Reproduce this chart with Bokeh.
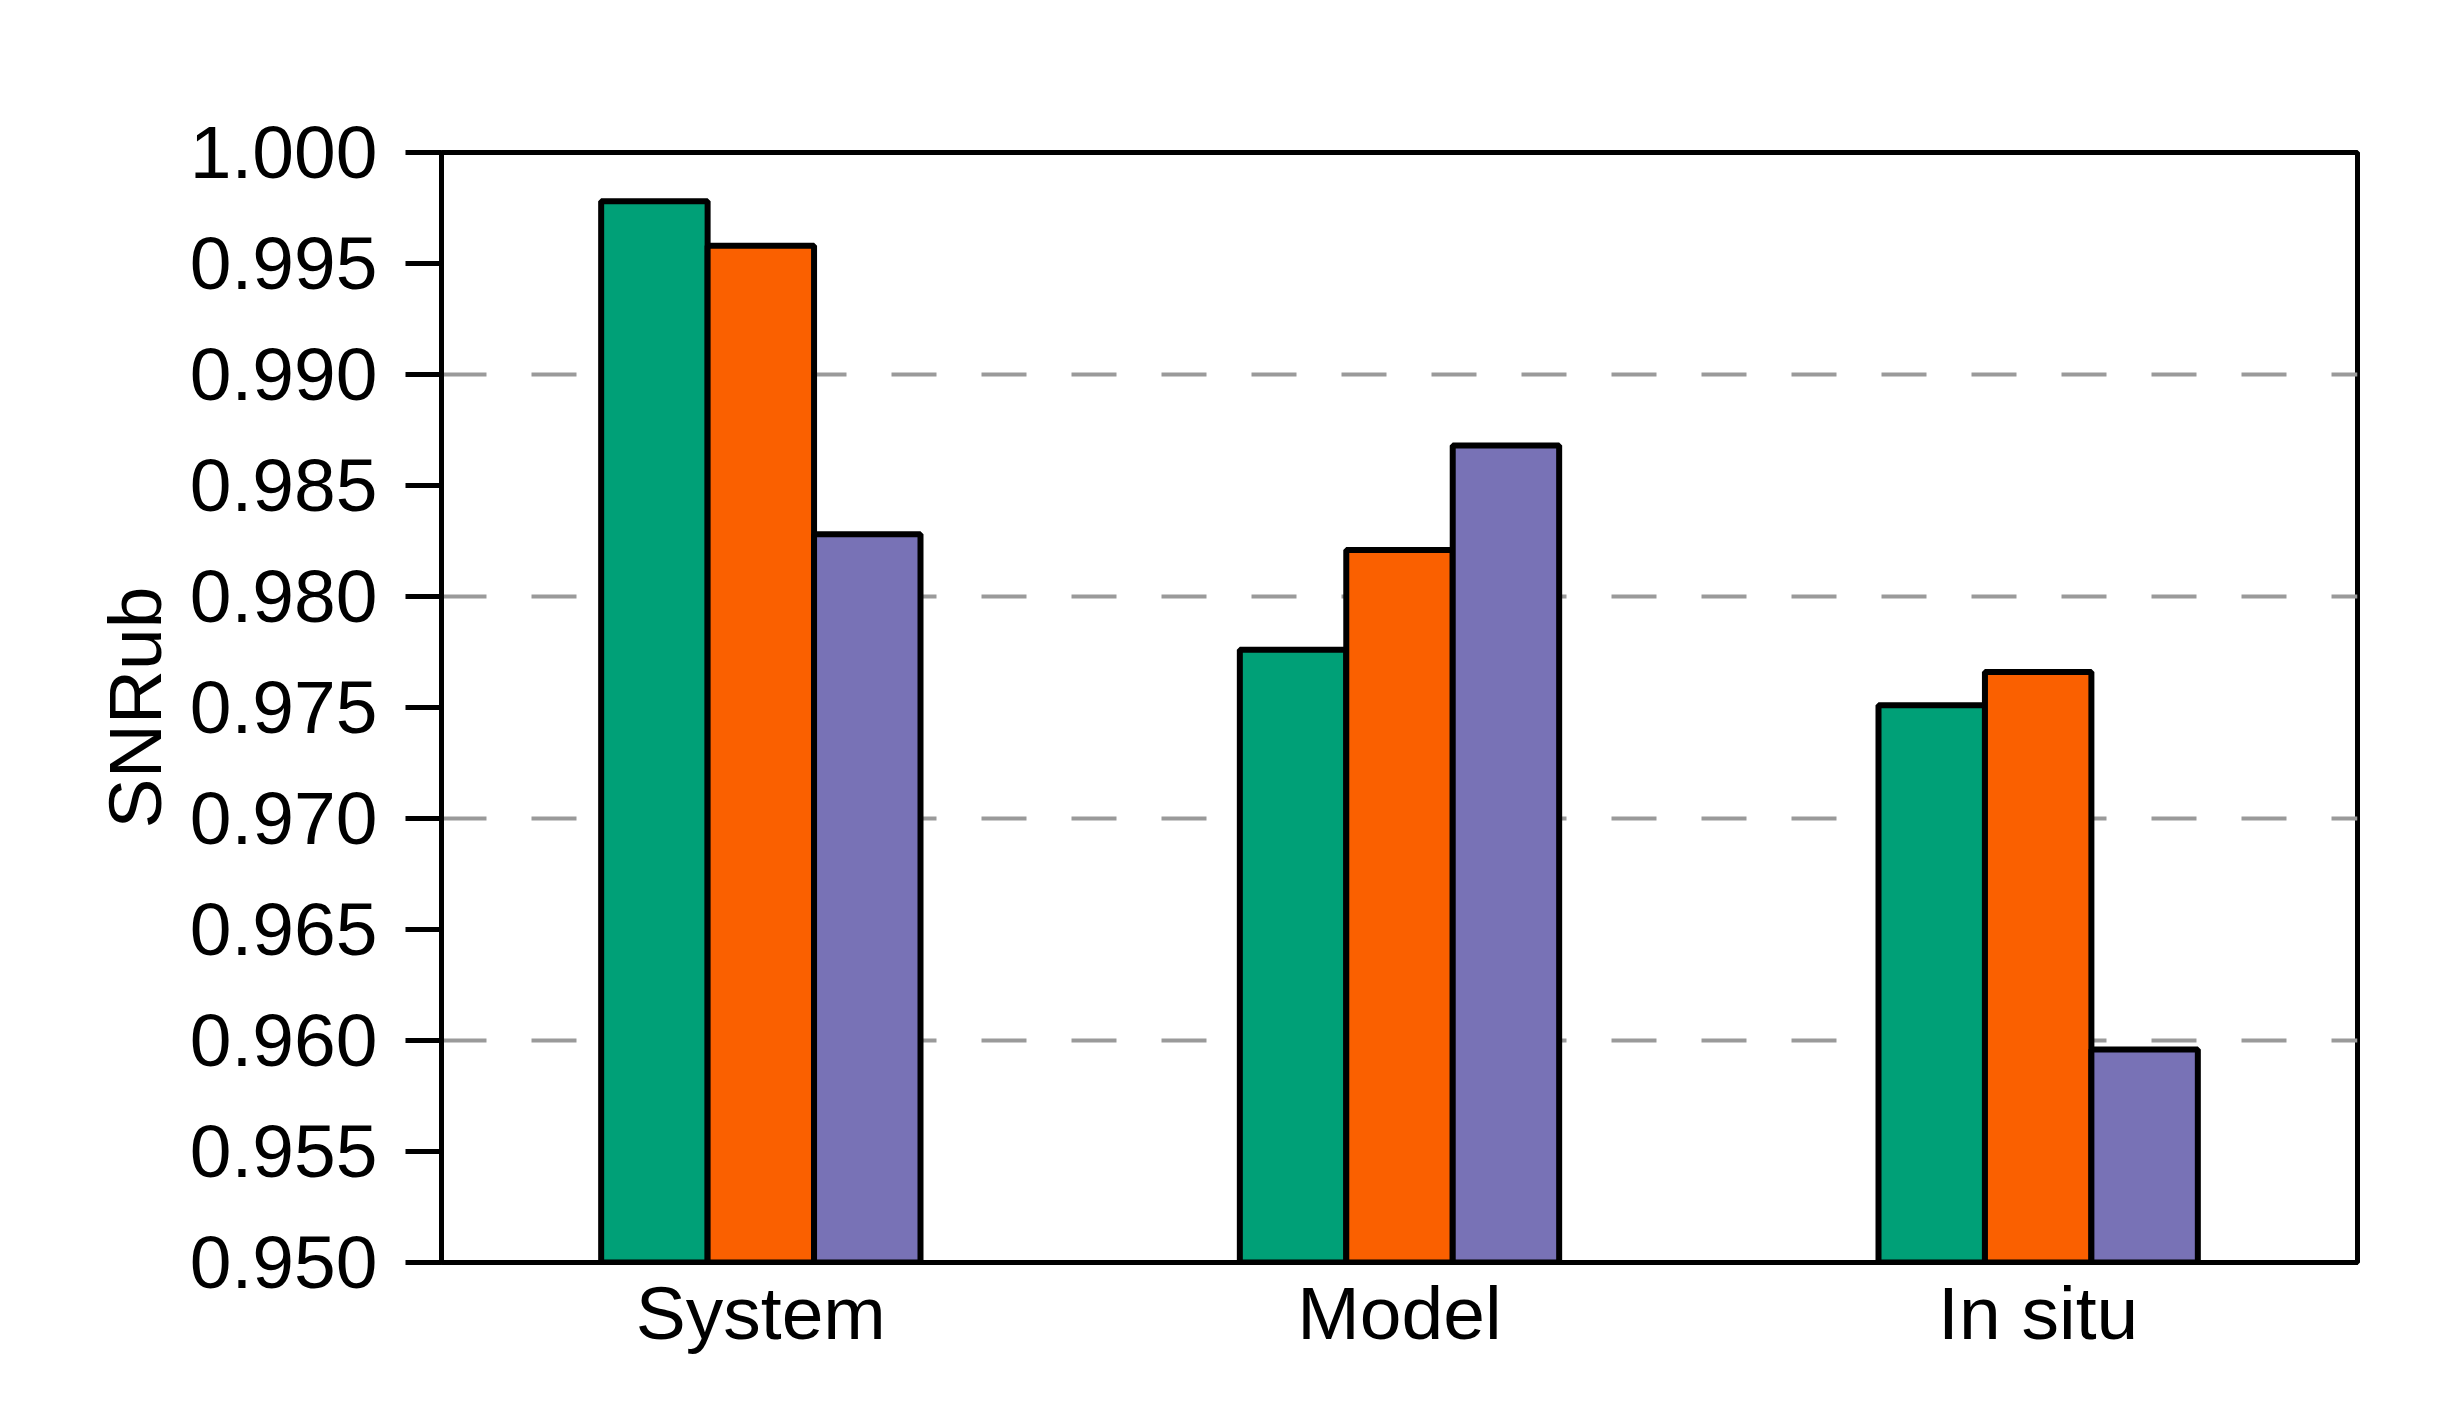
from bokeh.plotting import figure
from bokeh.models import ColumnDataSource, FactorRange, Range1d, FixedTicker, CustomJSTickFormatter
from bokeh.transform import dodge
from bokeh.embed import file_html
from bokeh.resources import INLINE

categories = ["System", "Model", "In situ"]
series_a = [0.9978, 0.9776, 0.9751]
series_b = [0.9958, 0.9821, 0.9766]
series_c = [0.9828, 0.9868, 0.9596]
y_ticks = [0.950, 0.955, 0.960, 0.965, 0.970, 0.975, 0.980, 0.985, 0.990, 0.995, 1.000]
grid_ticks = [0.960, 0.970, 0.980, 0.990]
y_label = "SNRub"

colors = ["#00A077", "#FA6000", "#7872B6"]
FONT = "Liberation Sans"

src = ColumnDataSource(data=dict(cat=categories, a=series_a, b=series_b, c=series_c))

p = figure(width=2448, height=1397, x_range=FactorRange(factors=categories),
           y_range=Range1d(0.95, 1.0), output_backend="svg", toolbar_location=None,
           min_border_left=441, min_border_top=152, min_border_right=91, min_border_bottom=135)

w = 1 / 6
for col, off, colr in zip(["a", "b", "c"], [-w, 0, w], colors):
    p.vbar(x=dodge("cat", off, range=p.x_range), top=col, bottom=0.95, width=w, source=src,
           fill_color=colr, line_color="black", line_width=6)

p.outline_line_color = "black"
p.outline_line_width = 5
p.background_fill_color = "white"
p.border_fill_color = "white"

p.xgrid.grid_line_color = None
p.ygrid.ticker = FixedTicker(ticks=grid_ticks)
p.ygrid.grid_line_color = "#9a9a9a"
p.ygrid.grid_line_width = 4
p.ygrid.grid_line_dash = "45 45"

p.yaxis.ticker = FixedTicker(ticks=y_ticks)
p.yaxis.formatter = CustomJSTickFormatter(code="return tick.toFixed(3);")
p.yaxis.minor_tick_line_color = None
p.yaxis.major_tick_out = 36
p.yaxis.major_tick_in = 0
p.yaxis.major_tick_line_width = 5
p.yaxis.axis_line_width = 5
p.yaxis.major_label_standoff = 28
p.yaxis.axis_label = y_label
p.yaxis.axis_label_standoff = 10

p.xaxis.major_tick_line_color = None
p.xaxis.minor_tick_line_color = None
p.xaxis.axis_line_width = 5
p.xaxis.major_label_standoff = 2

for ax in [p.xaxis[0], p.yaxis[0]]:
    ax.major_label_text_font = FONT
    ax.major_label_text_font_size = "75px"
    ax.major_label_text_color = "black"
    ax.axis_label_text_font = FONT
    ax.axis_label_text_font_size = "75px"
    ax.axis_label_text_font_style = "normal"
    ax.axis_label_text_color = "black"
    ax.axis_line_color = "black"

open("out.html", "w").write(file_html(p, INLINE))
